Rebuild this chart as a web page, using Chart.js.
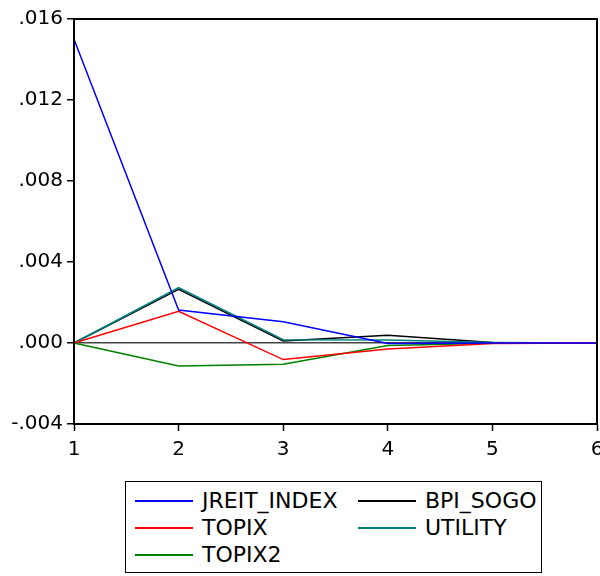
<!DOCTYPE html>
<html>
<head>
<meta charset="utf-8">
<script src="https://cdn.jsdelivr.net/npm/chart.js@4/dist/chart.umd.min.js"></script>
<style>
  html, body { margin: 0; padding: 0; background: #fff; }
  #wrap { position: relative; width: 600px; height: 576px; overflow: hidden; }
  #chart { position: absolute; left: 0; top: 0; }
  #legend {
    position: absolute; left: 125px; top: 481px; width: 417px; height: 92px;
    border: 1px solid #000; box-sizing: border-box;
    font-family: "DejaVu Sans", sans-serif; font-size: 22px; color: #000;
  }
  .item { position: absolute; height: 26px; line-height: 26px; white-space: nowrap; }
  .item .swatch { position: absolute; left: 0; top: 12px; width: 58px; height: 2px; }
  .item .name { position: absolute; left: 67px; top: 0; }
</style>
</head>
<body>
<div id="wrap">
  <canvas id="chart" width="600" height="470"></canvas>
  <div id="legend"></div>
</div>
<script>
"use strict";

// horizon steps
var steps = ["1", "2", "3", "4", "5", "6"];

// responses per series
var jreitIndex = [0.0150, 0.00163, 0.00105, -0.00003, 0.0, 0.0];
var bpiSogo = [0.0, 0.00265, 0.00010, 0.00038, 0.00003, 0.0];
var topix = [0.0, 0.00157, -0.00082, -0.00030, -0.00003, 0.0];
var utility = [0.0, 0.00273, 0.00016, 0.00015, 0.00002, 0.0];
var topix2 = [0.0, -0.00114, -0.00105, -0.00012, -0.00001, 0.0];

// y axis ticks
var yTicks = [-0.004, 0.0, 0.004, 0.008, 0.012, 0.016];

var seriesNames = ["JREIT_INDEX", "BPI_SOGO", "TOPIX", "UTILITY", "TOPIX2"];
var seriesData = [jreitIndex, bpiSogo, topix, utility, topix2];
var seriesColors = ["#0000ff", "#000000", "#ff0000", "#008080", "#008000"];
var seriesOrder = [0, 1, 0, 0, 0];

var tickFont = { family: "'DejaVu Sans', sans-serif", size: 20 };

function fmt(v) {
    var r = Math.round(v * 1000) / 1000;
    var s = Math.abs(r).toFixed(3).replace(/^0/, "");
    return (r < 0 ? "-" : "") + s;
}

// frame on top and right of the plot
var framePlugin = {
    id: "frame",
    afterDraw: function (chart) {
        var a = chart.chartArea, ctx = chart.ctx;
        ctx.save();
        ctx.strokeStyle = "#000";
        ctx.lineWidth = 2;
        ctx.strokeRect(a.left, a.top, a.right - a.left, a.bottom - a.top);
        ctx.restore();
    }
};

var datasets = seriesNames.map(function (name, i) {
    return {
        label: name,
        data: seriesData[i],
        borderColor: seriesColors[i],
        backgroundColor: seriesColors[i],
        borderWidth: 1.5,
        pointRadius: 0,
        tension: 0,
        order: seriesOrder[i]
    };
});

new Chart(document.getElementById("chart").getContext("2d"), {
    type: "line",
    data: { labels: steps, datasets: datasets },
    options: {
        responsive: false,
        animation: false,
        layout: { padding: { left: 0, top: 19, right: 3, bottom: 0 } },
        plugins: { legend: { display: false }, tooltip: { enabled: false } },
        scales: {
            x: {
                offset: false,
                grid: { drawOnChartArea: false, drawTicks: true, tickLength: 7, tickColor: "#000", tickWidth: 1.5 },
                border: { display: true, color: "#000", width: 2 },
                ticks: { color: "#000", font: tickFont, padding: 7, maxRotation: 0, autoSkip: false },
                afterFit: function (scale) {
                    scale.height = 46;
                    scale.paddingRight = 3;
                    scale.paddingLeft = 0;
                }
            },
            y: {
                min: -0.004,
                max: 0.016,
                afterBuildTicks: function (scale) {
                    scale.ticks = yTicks.map(function (v) { return { value: v }; });
                },
                grid: {
                    color: function (ctx) {
                        return ctx.tick && Math.abs(ctx.tick.value) < 1e-9 ? "#444" : "rgba(0,0,0,0)";
                    },
                    lineWidth: 1.5,
                    drawTicks: true,
                    tickLength: 7,
                    tickColor: "#000",
                    tickWidth: 1.5
                },
                border: { display: true, color: "#000", width: 2 },
                ticks: { color: "#000", font: tickFont, padding: 4, callback: fmt },
                afterFit: function (scale) {
                    scale.width = 74;
                }
            }
        }
    },
    plugins: [framePlugin]
});

// two-column legend, filled row by row
var legend = document.getElementById("legend");
var colX = [9, 232];
var rowY = [6, 33, 60];
seriesNames.forEach(function (name, i) {
    var item = document.createElement("div");
    item.className = "item";
    item.style.left = colX[i % 2] + "px";
    item.style.top = rowY[Math.floor(i / 2)] + "px";
    var sw = document.createElement("span");
    sw.className = "swatch";
    sw.style.background = seriesColors[i];
    var tx = document.createElement("span");
    tx.className = "name";
    tx.textContent = name;
    item.appendChild(sw);
    item.appendChild(tx);
    legend.appendChild(item);
});
</script>
</body>
</html>
